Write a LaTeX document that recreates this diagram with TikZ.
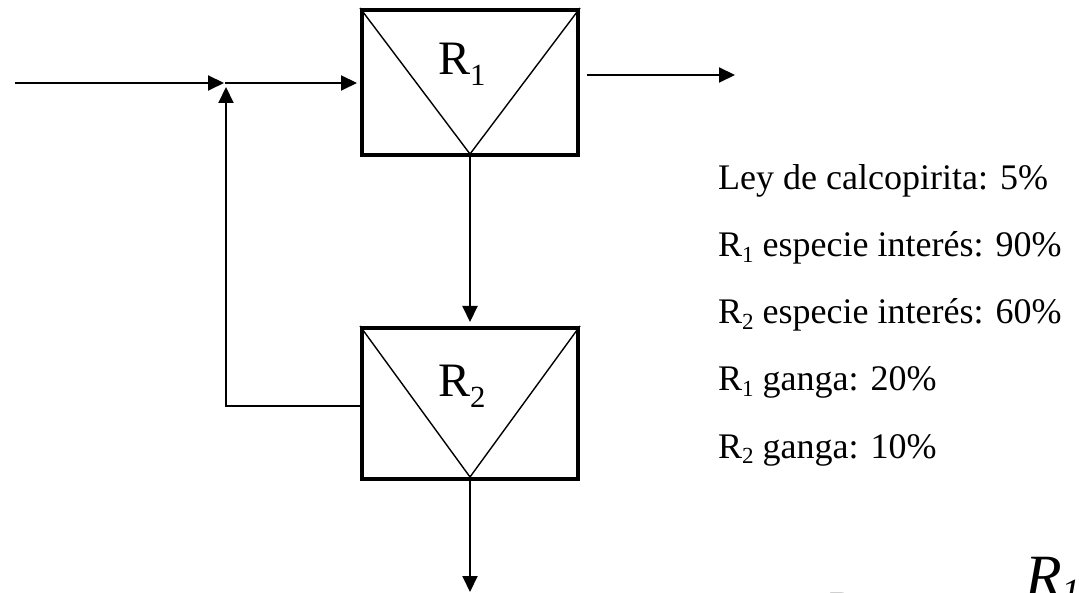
\documentclass[tikz,border=0pt]{standalone}
\usepackage{fontspec}
\setmainfont{Liberation Serif}[ItalicFont={Liberation Serif Italic}]
\usetikzlibrary{arrows.meta}
\newcommand\lowsub[2][0.16em]{\raisebox{-#1}{\scalebox{0.64}{#2}}}
\begin{document}
\begin{tikzpicture}[x=1pt,y=-1pt,
 flow/.style={line width=2pt,-{Triangle[length=16pt,width=15pt]}},
 unitbox/.style={draw,line width=4pt,minimum width=216pt,inner sep=0pt},
 vline/.style={line width=1.4pt},
 unitlabel/.style={anchor=base west,inner sep=0pt,font=\fontsize{48}{56}\selectfont},
 info/.style={anchor=base west,inner sep=0pt,font=\fontsize{36}{42}\selectfont}]
\useasboundingbox (0,0) rectangle (1079,593);
% units
\node[unitbox,minimum height=145pt] (r1) at (470,82.5) {};
\node[unitbox,minimum height=151pt] (r2) at (470,403.5) {};
\draw[vline] (r1.north west) -- ([yshift=3pt]r1.south) -- (r1.north east);
\draw[vline] (r2.north west) -- ([yshift=4pt]r2.south) -- (r2.north east);
\node[unitlabel] (l1) at (438,75) {R\lowsub[0.22em]{1}};
\node[unitlabel] (l2) at (438,397) {R\lowsub[0.22em]{2}};
% coordinates
\coordinate (in) at (15,83);
\coordinate (j) at (225,83);
\coordinate (rc) at (226,406);
\coordinate (out) at (735,75);
\coordinate (bot) at (470,593);
% flows
\draw[flow,shorten >=1pt] (in) -- (j);
\draw[flow,shorten >=3pt] (j) -- (r1.west |- j);
\draw[flow,shorten >=4pt] (r2.west |- rc) -- (rc) -- (rc |- j);
\draw[flow,shorten <=7pt] (r1.east |- out) -- (out);
\draw[flow,shorten >=4pt] (r1.south) -- (r2.north);
\draw[flow,shorten >=1pt] (r2.south) -- (bot);
% information
\node[info] (t1) at (718,190) {Ley de calcopirita: 5\%};
\node[info] (t2) at (718,257) {R\lowsub{1} especie interés: 90\%};
\node[info] (t3) at (718,324) {R\lowsub{2} especie interés: 60\%};
\node[info] (t4) at (718,391) {R\lowsub{1} ganga: 20\%};
\node[info] (t5) at (718,458) {R\lowsub{2} ganga: 10\%};
% partially visible formula
\node[anchor=base west,inner sep=0pt,font=\fontsize{40}{48}\selectfont] (rt) at (829,619) {R};
\node[anchor=base west,inner sep=0pt,font=\fontsize{60}{70}\selectfont\itshape] (f) at (1025,596) {R\lowsub{1}R};
\end{tikzpicture}
\end{document}
